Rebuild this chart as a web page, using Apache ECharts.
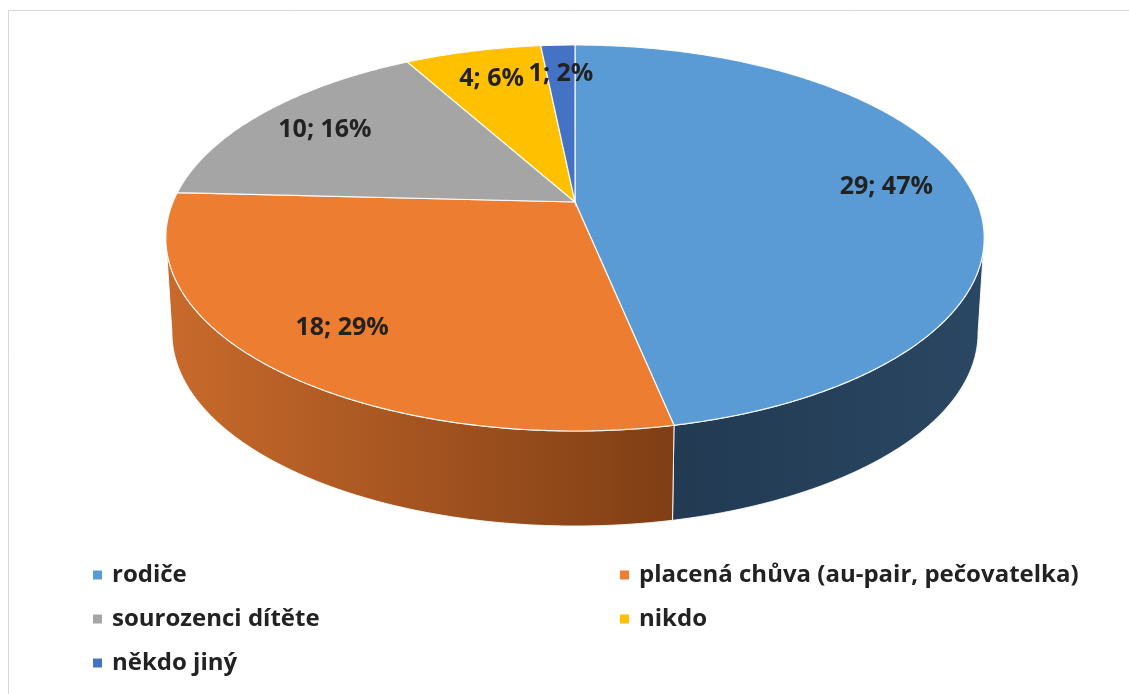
<!DOCTYPE html>
<html>
<head>
<meta charset="utf-8">
<script src="https://cdn.jsdelivr.net/npm/echarts@6/dist/echarts.min.js"></script>
<style>
  html, body { margin: 0; padding: 0; background: #ffffff; }
  #chart { width: 1129px; height: 694px; }
</style>
</head>
<body>
<div id="chart"></div>
<script>
// Who looks after the child: counts per answer
const categories = ['rodiče', 'placená chůva (au-pair, pečovatelka)', 'sourozenci dítěte', 'nikdo', 'někdo jiný'];
const counts = [29, 18, 10, 4, 1];

// Legend columns (names drawn in each column)
const legendLeft = ['rodiče', 'sourozenci dítěte', 'někdo jiný'];
const legendRight = ['placená chůva (au-pair, pečovatelka)', 'nikdo'];

// Slice styles: top face colour and side wall gradient (left -> right)
const topColors = ['#5b9bd5', '#ed7d31', '#a5a5a5', '#ffc000', '#4472c4'];
const sideColors = [['#223a52', '#2a4763'], ['#c96a2c', '#7f3e14'], ['#7c7c7c', '#5c5c5c'], ['#bf9000', '#8f6c00'], ['#33568f', '#27426e']];

// Tilted disc geometry (perspective-projected circle)
const PIE = { cx: 575, cy: 202, rx: 402, ry: 186.3, k: 0.1865, depth: 95, bottomScale: 0.985, labelR: 0.79 };
const total = counts.reduce((a, b) => a + b, 0);
const TAU = Math.PI * 2;

function project(theta, r, bottom) {
  const s = Math.sin(theta), c = Math.cos(theta);
  const d = 1 + PIE.k * r * c;
  const sx = bottom ? PIE.bottomScale : 1;
  return [
    PIE.cx + PIE.rx * sx * r * s / d,
    PIE.cy + (bottom ? PIE.depth : 0) - PIE.ry * r * c / d
  ];
}

function arc(a0, a1, bottom) {
  const pts = [];
  const n = Math.max(2, Math.ceil(Math.abs(a1 - a0) / (0.4 * Math.PI / 180)));
  for (let i = 0; i <= n; i++) {
    pts.push(project(a0 + (a1 - a0) * i / n, 1, bottom));
  }
  return pts;
}

// silhouette range where the side wall faces the viewer
const visStart = Math.acos(-PIE.k);
const visEnd = TAU - visStart;

function renderSlice(idx) {
  return function (params, api) {
    const value = api.value(0);
    let before = 0;
    for (let i = 0; i < idx; i++) before += counts[i];
    const a0 = before / total * TAU;
    const a1 = (before + value) / total * TAU;
    const children = [];

    // side wall (only the part facing forward)
    const s0 = Math.max(a0, visStart), s1 = Math.min(a1, visEnd);
    if (s1 > s0) {
      const top = arc(s0, s1, false);
      const bot = arc(s1, s0, true);
      children.push({
        type: 'polygon',
        z2: 1,
        shape: { points: top.concat(bot) },
        style: {
          fill: new echarts.graphic.LinearGradient(0, 0, 1, 0, [
            { offset: 0, color: sideColors[idx][0] },
            { offset: 1, color: sideColors[idx][1] }
          ]),
          stroke: 'rgba(255,255,255,0.9)',
          lineWidth: 1
        }
      });
    }

    // top face
    const face = [[PIE.cx, PIE.cy]].concat(arc(a0, a1, false));
    children.push({
      type: 'polygon',
      z2: 10,
      shape: { points: face },
      style: { fill: topColors[idx], stroke: 'rgba(255,255,255,0.9)', lineWidth: 1.2 }
    });

    // data label "count; percent"
    const mid = (a0 + a1) / 2;
    const s = Math.sin(mid), c = Math.cos(mid);
    const d = 1 + PIE.k * PIE.labelR * c;
    const lx = PIE.cx + PIE.rx * PIE.labelR * s / d;
    const ly = PIE.cy - PIE.ry * PIE.labelR * c / d;
    children.push({
      type: 'text',
      z2: 30,
      style: {
        text: value + '; ' + Math.round(value / total * 100) + '%',
        x: lx, y: ly,
        align: 'center', verticalAlign: 'middle',
        font: 'bold 25px "Open Sans"',
        fill: '#222222'
      }
    });
    return { type: 'group', children: children };
  };
}

const series = categories.map((name, i) => ({
  type: 'custom',
  name: name,
  coordinateSystem: 'none',
  itemStyle: { color: topColors[i] },
  data: [[counts[i]]],
  renderItem: renderSlice(i),
  silent: true
}));

const legendCommon = {
  orient: 'vertical',
  top: 562,
  padding: 0,
  icon: 'rect',
  itemWidth: 9,
  itemHeight: 9,
  itemGap: 18,
  selectedMode: false,
  textStyle: {
    fontFamily: 'Open Sans',
    fontWeight: 'bold',
    fontSize: 24,
    lineHeight: 26,
    color: '#222222',
    padding: [0, 0, 0, 5]
  }
};

const chart = echarts.init(document.getElementById('chart'), null, { renderer: 'canvas' });
chart.setOption({
  animation: false,
  backgroundColor: '#ffffff',
  graphic: [{
    type: 'rect',
    shape: { x: 8.5, y: 10.5, width: 1200, height: 800 },
    style: { fill: 'none', stroke: '#d9d9d9', lineWidth: 1 },
    silent: true
  }],
  legend: [
    Object.assign({}, legendCommon, { left: 93, data: legendLeft }),
    Object.assign({}, legendCommon, { left: 620, data: legendRight })
  ],
  series: series
});
</script>
</body>
</html>
